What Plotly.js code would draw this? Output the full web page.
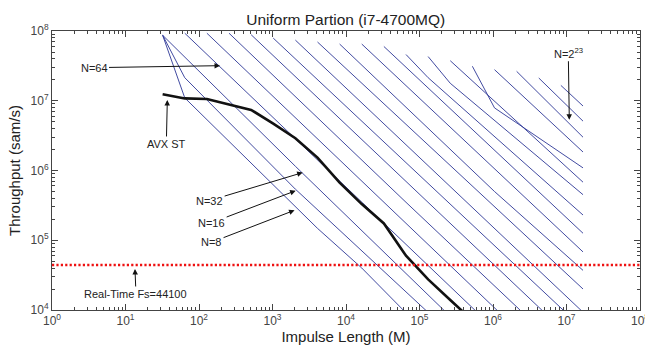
<!DOCTYPE html>
<html>
<head>
<meta charset="utf-8">
<script src="https://cdn.plot.ly/plotly-3.0.1.min.js"></script>
<style>
html,body{margin:0;padding:0;background:#fff;}
#chart{width:645px;height:350px;}
</style>
</head>
<body>
<div id="chart"></div>
<script>
// ---- Data ----
// Impulse length M and throughput (samples/s) for each partition size N
const M_N8  = [32, 64, 4096, 16384, 65536, 16777216];
const T_N8  = [8.7e7, 1.1e7, 1.48e5, 4.0e4, 9.1e3, 40];
const M_N16 = [32, 64, 2048, 131072, 16777216];
const T_N16 = [8.7e7, 2.14e7, 5.4e5, 9.6e3, 80];
const M_N32 = [32, 2048, 262144, 16777216];
const T_N32 = [8.7e7, 1.15e6, 8.1e3, 115];
const M_N64 = [64, 8192, 16777216];
const T_N64 = [9.3e7, 7.1e5, 330];
const M_N128 = [128, 16384, 16777216];
const T_N128 = [9.3e7, 7.1e5, 660];
const M_N256 = [256, 65536, 16777216];
const T_N256 = [9.3e7, 3.5e5, 1.4e3];
const M_N512 = [512, 262144, 16777216];
const T_N512 = [8.85e7, 1.76e5, 2.75e3];
const M_N1024 = [1024, 524288, 16777216];
const T_N1024 = [7.9e7, 1.66e5, 5.4e3];
const M_N2048 = [2048, 1048576, 16777216];
const T_N2048 = [7.4e7, 1.5e5, 9.3e3];
const M_N4096 = [4096, 16777216];
const T_N4096 = [6.95e7, 2.0e4];
const M_N8192 = [8192, 1048576, 16777216];
const T_N8192 = [6.5e7, 5.0e5, 3.7e4];
const M_N16384 = [16384, 16777216];
const T_N16384 = [6.5e7, 6.8e4];
const M_N32768 = [32768, 16777216];
const T_N32768 = [6.0e7, 1.26e5];
const M_N65536 = [65536, 131072, 16777216];
const T_N65536 = [4.6e7, 2.14e7, 2.3e5];
const M_N131072 = [131072, 262144, 16777216];
const T_N131072 = [4.3e7, 1.78e7, 4.5e5];
const M_N262144 = [262144, 16777216];
const T_N262144 = [3.75e7, 6.8e5];
const M_N524288 = [524288, 1048576, 16777216];
const T_N524288 = [3.12e7, 7.9e6, 1.09e6];
const M_N1048576 = [1048576, 16777216];
const T_N1048576 = [2.79e7, 1.84e6];
const M_N2097152 = [2097152, 16777216];
const T_N2097152 = [2.64e7, 3.0e6];
const M_N4194304 = [4194304, 16777216];
const T_N4194304 = [2.12e7, 5.1e6];
const M_N8388608 = [8388608, 16777216];
const T_N8388608 = [1.66e7, 8.4e6];

const blueLines = [
  [M_N8, T_N8], [M_N16, T_N16], [M_N32, T_N32], [M_N64, T_N64],
  [M_N128, T_N128], [M_N256, T_N256], [M_N512, T_N512], [M_N1024, T_N1024],
  [M_N2048, T_N2048], [M_N4096, T_N4096], [M_N8192, T_N8192], [M_N16384, T_N16384],
  [M_N32768, T_N32768], [M_N65536, T_N65536], [M_N131072, T_N131072], [M_N262144, T_N262144],
  [M_N524288, T_N524288], [M_N1048576, T_N1048576], [M_N2097152, T_N2097152],
  [M_N4194304, T_N4194304], [M_N8388608, T_N8388608]
];

// AVX ST (single thread) throughput
const M_AVX = [32, 64, 128, 256, 512, 1024, 2048, 4096, 8192, 16384, 32768, 65536, 131072, 262144, 524288];
const T_AVX = [1.24e7, 1.08e7, 1.06e7, 8.8e6, 7.4e6, 4.7e6, 2.9e6, 1.53e6, 6.7e5, 3.3e5, 1.74e5, 6.0e4, 2.75e4, 1.39e4, 7.1e3];

// Real-time sample rate
const realTimeFs = 44100;
const realTimeX = [1, 1e8];

// Tick labels
const xTickVals = [1, 10, 100, 1e3, 1e4, 1e5, 1e6, 1e7, 1e8];
const xTickText = ['10<sup>0</sup>','10<sup>1</sup>','10<sup>2</sup>','10<sup>3</sup>','10<sup>4</sup>','10<sup>5</sup>','10<sup>6</sup>','10<sup>7</sup>','10<sup>8</sup>'];
const yTickVals = [1e4, 1e5, 1e6, 1e7, 1e8];
const yTickText = ['10<sup>4</sup>','10<sup>5</sup>','10<sup>6</sup>','10<sup>7</sup>','10<sup>8</sup>'];

// ---- Traces ----
const traces = [];
blueLines.forEach(function(l){
  traces.push({x: l[0], y: l[1], type: 'scatter', mode: 'lines',
    line: {color: 'rgb(45,55,150)', width: 0.9}, hoverinfo: 'skip'});
});
traces.push({x: M_AVX, y: T_AVX, type: 'scatter', mode: 'lines',
  line: {color: '#111', width: 2.6}, hoverinfo: 'skip'});
traces.push({x: realTimeX, y: [realTimeFs, realTimeFs], type: 'scatter', mode: 'lines',
  line: {color: '#ee1111', width: 2.4, dash: '2.2px,2.2px'}, hoverinfo: 'skip'});

const fontFam = 'Liberation Sans, Arial, Helvetica, sans-serif';
function ann(x, y, text, ax, ay) {
  return {x: x, y: y, xref: 'x', yref: 'y', text: text, showarrow: true,
    ax: ax, ay: ay, arrowhead: 2, arrowsize: 1.1, arrowwidth: 1, arrowcolor: '#111',
    font: {family: fontFam, size: 11, color: '#222'}, standoff: 0, startstandoff: 0};
}

const axCommon = {
  type: 'log', showgrid: false, zeroline: false,
  showline: true, linecolor: '#444', linewidth: 1, mirror: 'allticks',
  ticks: 'inside', ticklen: 6, tickcolor: '#444', tickwidth: 1,
  tickmode: 'array', ticklabeloverflow: 'allow',
  tickfont: {family: fontFam, size: 12, color: '#444'},
  minor: {ticks: 'inside', ticklen: 3, tickcolor: '#444', dtick: 'D1', showgrid: false}
};

const layout = {
  width: 645, height: 350,
  margin: {l: 52, r: 5, t: 31, b: 40},
  paper_bgcolor: '#fff', plot_bgcolor: '#fff',
  showlegend: false,
  font: {family: fontFam},
  title: {text: 'Uniform Partion (i7-4700MQ)', font: {family: fontFam, size: 15.5, color: '#222'},
    x: 0.536, xanchor: 'center', y: 0.945, yanchor: 'middle', yref: 'container'},
  xaxis: Object.assign({}, axCommon, {
    range: [0, 8], tickvals: xTickVals, ticktext: xTickText,
    title: {text: 'Impulse Length (M)', font: {family: fontFam, size: 15, color: '#222'}, standoff: 3}
  }),
  yaxis: Object.assign({}, axCommon, {
    range: [4, 8], tickvals: yTickVals, ticktext: yTickText,
    title: {text: 'Throughput (sam/s)', font: {family: fontFam, size: 15, color: '#222'}, standoff: 6}
  }),
  annotations: [
    ann(2.286, 7.503, 'N=64', -126, 2),
    ann(1.569, 7.011, 'AVX ST', -1, 44),
    ann(3.41, 5.97, 'N=32', -93, 28),
    ann(3.315, 5.71, 'N=16', -84, 32),
    ann(3.30, 5.43, 'N=8', -83, 32),
    ann(1.129, 4.588, 'Real-Time Fs=44100', 1, 25),
    ann(7.038, 6.728, 'N=2<sup>23</sup>', -1, -67)
  ]
};

Plotly.newPlot('chart', traces, layout, {staticPlot: true, displayModeBar: false});
</script>
</body>
</html>
